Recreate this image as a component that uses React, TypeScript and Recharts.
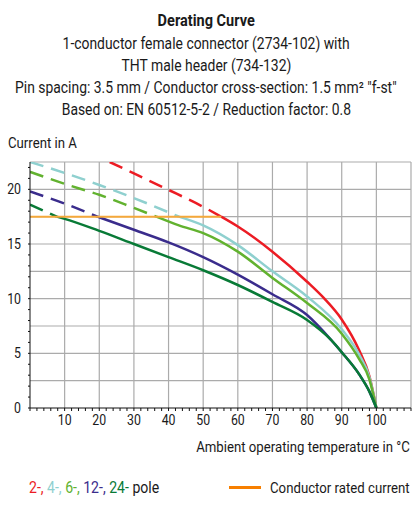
import React from 'react';
import { LineChart, Line, XAxis, YAxis, CartesianGrid } from 'recharts';

const FONT = "Roboto, 'Noto Sans', sans-serif";
const SX = 0.88; // squeeze to mimic the condensed face of the original

// temperatures (°C) and currents (A)
const pole2T = [23, 30, 40, 50, 55.2, 60, 70, 80, 85, 90, 95, 98, 100];
const pole2I = [22.5, 21.45, 19.95, 18.4, 17.5, 16.6, 14.3, 11.55, 10.0, 8.1, 5.3, 2.9, 0];

const pole4T = [0, 10, 20, 30, 40, 43, 50, 60, 70, 80, 90, 95, 98, 100];
const pole4I = [22.5, 21.5, 20.4, 19.2, 17.9, 17.5, 16.7, 14.9, 12.5, 10.2, 7.2, 4.9, 2.8, 0];

const pole6T = [0, 10, 20, 30, 36.5, 43, 50, 60, 70, 80, 90, 95, 98, 100];
const pole6I = [21.6, 20.5, 19.5, 18.3, 17.5, 16.7, 16.0, 14.3, 11.9, 9.6, 6.8, 4.5, 2.6, 0];

const pole12T = [0, 10, 19.5, 30, 40, 50, 60, 70, 80, 87, 90, 95, 98, 100];
const pole12I = [19.8, 18.7, 17.5, 16.3, 15.15, 13.8, 12.2, 10.4, 8.5, 6.2, 5.1, 3.1, 1.5, 0];

const pole24T = [0, 7.7, 10, 20, 30, 40, 50, 60, 70, 80, 87, 90, 95, 98, 100];
const pole24I = [18.6, 17.5, 17.3, 16.2, 15.0, 13.8, 12.6, 11.25, 9.7, 8.05, 6.2, 5.1, 3.1, 1.5, 0];

const ratedT = [0, 55.2];
const ratedI = [17.5, 17.5];

const xLabels = [10, 20, 30, 40, 50, 60, 70, 80, 90, 100, 105];
const yLabels = [0, 5, 10, 15, 20];
const xGrid = [10, 20, 30, 40, 50, 60, 70, 80, 90, 100, 110];
const yGrid = [2.5, 5, 7.5, 10, 12.5, 15, 17.5, 20, 22.5];

const xMinor = Array.from({ length: 56 }, (_, k) => k * 2);
const yMinor = Array.from({ length: 23 }, (_, k) => k);

const RATED = 17.5;

const series = [
    { label: '2-,', color: '#ec1c24', t: pole2T, i: pole2I },
    { label: '4-,', color: '#8fd0cf', t: pole4T, i: pole4I },
    { label: '6-,', color: '#62b22f', t: pole6T, i: pole6I },
    { label: '12-,', color: '#3a2c8c', t: pole12T, i: pole12I },
    { label: '24-', color: '#087a36', t: pole24T, i: pole24I },
];

const toPoints = (ts: number[], is: number[]) => ts.map((t, k) => ({ t, i: is[k] }));

const XTick = (props: any) => {
    const { x, y, payload } = props;
    if (!xLabels.includes(payload.value)) return <g />;
    return (
        <text transform={`translate(${x} ${y + 12}) scale(${SX} 1)`} textAnchor="middle" fontFamily={FONT} fontSize={14} fill="#1a1a1a">
            {payload.value}
        </text>
    );
};

const YTick = (props: any) => {
    const { x, y, payload } = props;
    if (!yLabels.includes(payload.value)) return <g />;
    return (
        <text transform={`translate(${x - 5} ${y + 5}) scale(${SX} 1)`} textAnchor="end" fontFamily={FONT} fontSize={14} fill="#1a1a1a">
            {payload.value}
        </text>
    );
};

const Squeeze: React.FC<{ origin: string; children: React.ReactNode }> = ({ origin, children }) => (
    <span style={{ display: 'inline-block', transform: `scaleX(${SX})`, transformOrigin: origin, whiteSpace: 'pre' }}>{children}</span>
);

const titleLines = [
    { text: 'Derating Curve', bold: true, center: 21 },
    { text: '1-conductor female connector (2734-102) with', center: 44 },
    { text: 'THT male header (734-132)', center: 66 },
    { text: 'Pin spacing: 3.5 mm / Conductor cross-section: 1.5 mm\u00b2 "f-st"', center: 88 },
    { text: 'Based on: EN 60512-5-2 / Reduction factor: 0.8', center: 110 },
];

export default function App() {
    return (
        <div style={{ position: 'absolute', left: 0, top: 0, width: 412, height: 508, background: '#fff', fontFamily: FONT, color: '#1a1a1a', overflow: 'hidden' }}>
            {titleLines.map((l) => (
                <div
                    key={l.text}
                    style={{ position: 'absolute', left: -50, width: 512, top: l.center - 11, lineHeight: '22px', textAlign: 'center', fontSize: l.bold ? 16.5 : 15.8, fontWeight: l.bold ? 700 : 400 }}
                >
                    <Squeeze origin="center">{l.text}</Squeeze>
                </div>
            ))}
            <div style={{ position: 'absolute', left: 8, top: 132, lineHeight: '22px', fontSize: 15 }}>
                <Squeeze origin="left">Current in A</Squeeze>
            </div>

            <div style={{ position: 'absolute', left: 0, top: 0 }}>
                <LineChart width={412} height={440} margin={{ top: 162, right: 1, bottom: 0, left: 8 }}>
                    <CartesianGrid
                        stroke="#ababab"
                        strokeWidth={1.2}
                        verticalValues={xGrid}
                        horizontalValues={yGrid}
                    />
                    <XAxis
                        type="number"
                        dataKey="t"
                        domain={[0, 110]}
                        allowDataOverflow
                        ticks={xMinor}
                        interval={0}
                        height={32}
                        tickSize={3}
                        stroke="#111"
                        tick={<XTick />}
                    />
                    <YAxis
                        type="number"
                        domain={[0, 22.5]}
                        allowDataOverflow
                        ticks={yMinor}
                        interval={0}
                        width={22}
                        tickSize={2}
                        stroke="#111"
                        tick={<YTick />}
                    />
                    {series.map((s) => {
                        const pts = toPoints(s.t, s.i);
                        return [
                            <Line
                                key={s.label + 'd'}
                                data={pts.filter((p) => p.i >= RATED)}
                                dataKey="i"
                                type="monotone"
                                stroke={s.color}
                                strokeWidth={2.5}
                                strokeDasharray="14 8"
                                dot={false}
                                activeDot={false}
                                isAnimationActive={false}
                            />,
                            <Line
                                key={s.label + 's'}
                                data={pts.filter((p) => p.i <= RATED)}
                                dataKey="i"
                                type="monotone"
                                stroke={s.color}
                                strokeWidth={2.5}
                                dot={false}
                                activeDot={false}
                                isAnimationActive={false}
                            />,
                        ];
                    })}
                    <Line
                        data={toPoints(ratedT, ratedI)}
                        dataKey="i"
                        type="linear"
                        stroke="#f5a83a"
                        strokeWidth={2}
                        dot={false}
                        activeDot={false}
                        isAnimationActive={false}
                    />
                </LineChart>
            </div>

            <div style={{ position: 'absolute', right: 2, top: 436, lineHeight: '22px', fontSize: 15 }}>
                <Squeeze origin="right">Ambient operating temperature in °C</Squeeze>
            </div>

            <div style={{ position: 'absolute', left: 29, top: 477, lineHeight: '22px', fontSize: 16 }}>
                <Squeeze origin="left">
                    {series.map((s) => (
                        <span key={s.label} style={{ color: s.color }}>{s.label} </span>
                    ))}
                    <span>pole</span>
                </Squeeze>
            </div>
            <div style={{ position: 'absolute', left: 229, top: 486, width: 32, height: 3, background: '#f77f00' }} />
            <div style={{ position: 'absolute', right: 2, top: 477, lineHeight: '22px', fontSize: 15 }}>
                <Squeeze origin="right">Conductor rated current</Squeeze>
            </div>
        </div>
    );
}
